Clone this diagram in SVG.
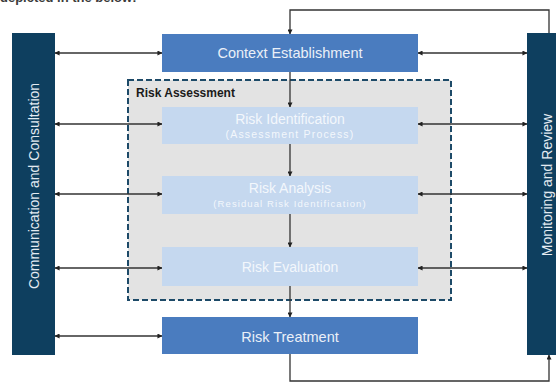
<svg xmlns="http://www.w3.org/2000/svg" width="556" height="385" viewBox="0 0 556 385">
  <style>
    .bar { fill: #0e3f5f; }
    .dark { fill: #4a7cbf; }
    .light { fill: #c5d8ef; }
    .t { font-family: "Liberation Sans", Arial, sans-serif; text-anchor: middle; }
    .bt { fill: #e4ebf2; font-size: 14px; }
    .dt { fill: #eaf0f8; font-size: 14.5px; }
    .lt { fill: #f3f7fc; font-size: 14px; }
    .st { fill: #f3f7fc; font-size: 10.5px; letter-spacing: 1.2px; }
    .wire { fill: none; stroke: #333; stroke-width: 1.3; }
  </style>
  <defs>
    <marker id="arr" viewBox="0 0 6 6" refX="5.5" refY="3" markerWidth="5" markerHeight="5" orient="auto-start-reverse" markerUnits="userSpaceOnUse">
      <path d="M0,0 L6,3 L0,6 z" fill="#222"/>
    </marker>
  </defs>

  <rect width="556" height="385" fill="#ffffff"/>

  <!-- heading line above the figure, clipped by the top edge -->
  <text x="0" y="1.5" font-family="Liberation Sans, Arial, sans-serif" font-size="13" font-weight="bold" fill="#3a3a3a">depicted in the below:</text>

  <!-- risk assessment container -->
  <g id="risk-assessment">
    <rect x="128" y="80" width="323" height="220" fill="#e3e3e3" stroke="#1d4a68" stroke-width="2" stroke-dasharray="6,3"/>
    <text x="136" y="97" font-family="Liberation Sans, Arial, sans-serif" font-size="12" font-weight="bold" fill="#1a1a1a">Risk Assessment</text>
  </g>

  <g id="communication">
    <rect class="bar" x="12" y="33" width="43" height="322"/>
    <text class="t bt" transform="translate(39,186) rotate(-90)">Communication and Consultation</text>
  </g>

  <g id="monitoring">
    <rect class="bar" x="527" y="33" width="35" height="322"/>
    <text class="t bt" transform="translate(552,185) rotate(-90)">Monitoring and Review</text>
  </g>

  <g id="context">
    <rect class="dark" x="162" y="34" width="256" height="38"/>
    <text class="t dt" x="290" y="58">Context Establishment</text>
  </g>

  <g id="identification">
    <rect class="light" x="162" y="107" width="256" height="37"/>
    <text class="t lt" x="290" y="124">Risk Identification</text>
    <text class="t st" x="290" y="138">(Assessment Process)</text>
  </g>

  <g id="analysis">
    <rect class="light" x="162" y="176" width="256" height="38"/>
    <text class="t lt" x="290" y="193">Risk Analysis</text>
    <text class="t st" x="290" y="207" style="font-size:9.5px;letter-spacing:1.1px">(Residual Risk Identification)</text>
  </g>

  <g id="evaluation">
    <rect class="light" x="162" y="247" width="256" height="39"/>
    <text class="t lt" x="290" y="272">Risk Evaluation</text>
  </g>

  <g id="treatment">
    <rect class="dark" x="162" y="317" width="256" height="37"/>
    <text class="t dt" x="290" y="342">Risk Treatment</text>
  </g>

  <g id="connectors" class="wire">
    <!-- main flow -->
    <line x1="290" y1="72" x2="290" y2="107" marker-end="url(#arr)"/>
    <line x1="290" y1="144" x2="290" y2="176" marker-end="url(#arr)"/>
    <line x1="290" y1="214" x2="290" y2="247" marker-end="url(#arr)"/>
    <line x1="290" y1="286" x2="290" y2="317" marker-end="url(#arr)"/>

    <!-- communication links -->
    <line x1="55" y1="53" x2="162" y2="53" marker-start="url(#arr)" marker-end="url(#arr)"/>
    <line x1="55" y1="124" x2="162" y2="124" marker-start="url(#arr)" marker-end="url(#arr)"/>
    <line x1="55" y1="194" x2="162" y2="194" marker-start="url(#arr)" marker-end="url(#arr)"/>
    <line x1="55" y1="268" x2="162" y2="268" marker-start="url(#arr)" marker-end="url(#arr)"/>
    <line x1="55" y1="336" x2="162" y2="336" marker-start="url(#arr)" marker-end="url(#arr)"/>

    <!-- monitoring links -->
    <line x1="418" y1="53" x2="527" y2="53" marker-start="url(#arr)" marker-end="url(#arr)"/>
    <line x1="418" y1="124" x2="527" y2="124" marker-start="url(#arr)" marker-end="url(#arr)"/>
    <line x1="418" y1="194" x2="527" y2="194" marker-start="url(#arr)" marker-end="url(#arr)"/>
    <line x1="418" y1="268" x2="527" y2="268" marker-start="url(#arr)" marker-end="url(#arr)"/>

    <!-- feedback loop -->
    <polyline points="549,33 549,10 290,10 290,34" marker-end="url(#arr)"/>
    <polyline points="290,354 290,381 549,381 549,355" marker-end="url(#arr)"/>
  </g>
</svg>
